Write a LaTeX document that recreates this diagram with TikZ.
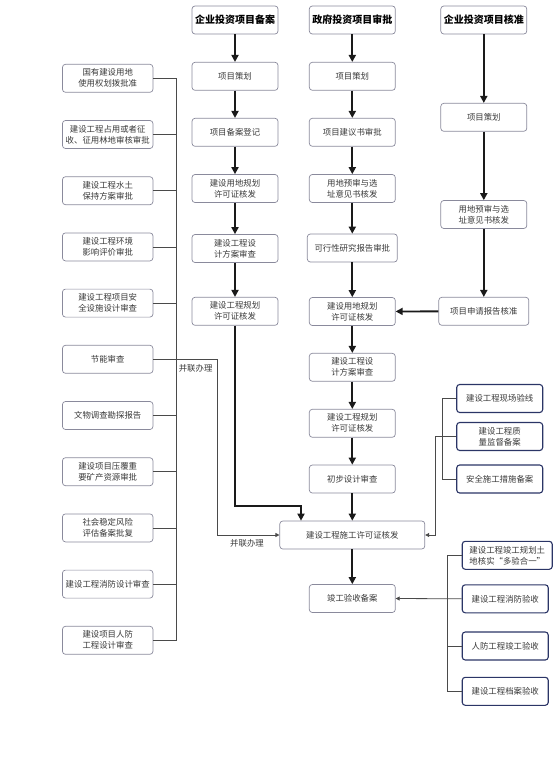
\documentclass[tikz,border=0pt]{standalone}
\usepackage{fontspec}
\newfontfamily\cjk{Noto Sans CJK SC}
\usetikzlibrary{arrows.meta}
\definecolor{boxline}{HTML}{8A8A9C}
\definecolor{navyline}{HTML}{2B3566}
\definecolor{flowline}{HTML}{1A1A1A}
\definecolor{linkgray}{HTML}{4A4A4A}
\definecolor{boxtext}{HTML}{3A3A3A}
\begin{document}
\begin{tikzpicture}[x=1pt,y=-1pt,
  box/.style={draw=boxline, line width=0.7pt, rounded corners=3pt, fill=white,
    align=center, minimum width=86pt, minimum height=28pt, inner sep=1pt,
    text=boxtext, font=\cjk\fontsize{8.4}{11}\selectfont},
  navybox/.style={box, draw=navyline, line width=1.1pt},
  headbox/.style={box, text=black, font=\cjk\bfseries\fontsize{10}{12}\selectfont},
  flow/.style={draw=flowline, line width=1.8pt, -{Triangle[length=7pt,width=7pt]}},
  link/.style={draw=linkgray, line width=0.8pt},
  linkarrow/.style={link, -{Triangle[length=4pt,width=4pt]}},
  tag/.style={text=boxtext, inner sep=0pt, font=\cjk\fontsize{8.4}{10}\selectfont}]

  \useasboundingbox (0,0) rectangle (554,760);

  %% headers
  \node[headbox] (baHead) at (235,20) {企业投资项目备案};
  \node[headbox] (spHead) at (352.3,20) {政府投资项目审批};
  \node[headbox] (hzHead) at (483.8,20) {企业投资项目核准};

  %% filing column
  \node[box] (ba1) at (235,76.3) {项目策划};
  \node[box] (ba2) at (235,132.3) {项目备案登记};
  \node[box] (ba3) at (235,188.5) {建设用地规划\\许可证核发};
  \node[box] (ba4) at (235,248.5) {建设工程设\\计方案审查};
  \node[box] (ba5) at (235,311.3) {建设工程规划\\许可证核发};

  %% approval column
  \node[box] (sp1) at (352.3,76.3) {项目策划};
  \node[box] (sp2) at (352.3,132.3) {项目建议书审批};
  \node[box] (sp3) at (352.3,188.5) {用地预审与选\\址意见书核发};
  \node[box, minimum width=90pt] (sp4) at (352.3,248) {可行性研究报告审批};
  \node[box] (sp5) at (352.3,311.5) {建设用地规划\\许可证核发};
  \node[box] (sp6) at (352.3,367.3) {建设工程设\\计方案审查};
  \node[box] (sp7) at (352.3,423.3) {建设工程规划\\许可证核发};
  \node[box] (sp8) at (352.3,479) {初步设计审查};
  \node[box, minimum width=145pt] (sp9) at (352.3,535) {建设工程施工许可证核发};
  \node[box] (sp10) at (352.3,598.5) {竣工验收备案};

  %% verification column
  \node[box] (hz1) at (483.8,117.3) {项目策划};
  \node[box] (hz2) at (483.8,214.5) {用地预审与选\\址意见书核发};
  \node[box, minimum width=90pt] (hz3) at (483.8,311.3) {项目申请报告核准};

  %% parallel items on the left
  \begin{scope}[every node/.style={box, minimum width=90.5pt}]
  \node (bl1) at (107.7,78.3) {国有建设用地\\使用权划拨批准};
  \node (bl2) at (107.7,134.5) {建设工程占用或者征\\收、征用林地审核审批};
  \node (bl3) at (107.7,190.7) {建设工程水土\\保持方案审批};
  \node (bl4) at (107.7,246.9) {建设工程环境\\影响评价审批};
  \node (bl5) at (107.7,303.1) {建设工程项目安\\全设施设计审查};
  \node (bl6) at (107.7,359.3) {节能审查};
  \node (bl7) at (107.7,415.5) {文物调查勘探报告};
  \node (bl8) at (107.7,471.7) {建设项目压覆重\\要矿产资源审批};
  \node (bl9) at (107.7,527.9) {社会稳定风险\\评估备案批复};
  \node (bl10) at (107.7,584.1) {建设工程消防设计审查};
  \node (bl11) at (107.7,640.3) {建设项目人防\\工程设计审查};
  \end{scope}

  %% construction stage filings
  \node[navybox] (sg1) at (499.7,398.5) {建设工程现场验线};
  \node[navybox] (sg2) at (499.7,436.5) {建设工程质\\量监督备案};
  \node[navybox] (sg3) at (499.7,479) {安全施工措施备案};

  %% acceptance items
  \node[navybox, anchor=west, minimum width=90pt] (ys1) at (461.7,555.3) {建设工程竣工规划土\\地核实“多验合一”};
  \node[navybox, anchor=west] (ys2) at (461.7,598.8) {建设工程消防验收};
  \node[navybox, anchor=west] (ys3) at (461.7,646) {人防工程竣工验收};
  \node[navybox, anchor=west] (ys4) at (461.7,691.3) {建设工程档案验收};

  \node[tag] (blTag1) at (195.6,368.3) {并联办理};
  \node[tag] (blTag2) at (247,543.3) {并联办理};

  %% main flow
  \draw[flow] (baHead) -- (ba1);
  \draw[flow] (ba1) -- (ba2);
  \draw[flow] (ba2) -- (ba3);
  \draw[flow] (ba3) -- (ba4);
  \draw[flow] (ba4) -- (ba5);
  \draw[flow] (spHead) -- (sp1);
  \draw[flow] (sp1) -- (sp2);
  \draw[flow] (sp2) -- (sp3);
  \draw[flow] (sp3) -- (sp4);
  \draw[flow] (sp4) -- (sp5);
  \draw[flow] (sp5) -- (sp6);
  \draw[flow] (sp6) -- (sp7);
  \draw[flow] (sp7) -- (sp8);
  \draw[flow] (sp8) -- (sp9);
  \draw[flow] (sp9) -- (sp10);
  \draw[flow] (hzHead) -- (hz1);
  \draw[flow] (hz1) -- (hz2);
  \draw[flow] (hz2) -- (hz3);
  \draw[flow] (hz3) -- (sp5);

  \coordinate (baJoin) at (301,505.7);
  \draw[flow] (ba5.south) |- (baJoin) -- (baJoin |- sp9.north); %% ba5 -> sp9

  %% left bus
  \coordinate (blBus) at (176.7,0);
  \draw[link] (bl1.east) -- (bl1.east -| blBus) -- (bl11.east -| blBus) -- (bl11.east);
  \draw[link] (bl2.east) -- (bl2.east -| blBus);
  \draw[link] (bl3.east) -- (bl3.east -| blBus);
  \draw[link] (bl4.east) -- (bl4.east -| blBus);
  \draw[link] (bl5.east) -- (bl5.east -| blBus);
  \draw[link] (bl7.east) -- (bl7.east -| blBus);
  \draw[link] (bl8.east) -- (bl8.east -| blBus);
  \draw[link] (bl9.east) -- (bl9.east -| blBus);
  \draw[link] (bl10.east) -- (bl10.east -| blBus);
  \coordinate (blTurn) at (217.7,0);
  \draw[linkarrow] (bl6.east) -- (bl6.east -| blTurn) |- (sp9.west); %% bl6 -> sp9

  %% right buses
  \coordinate (sgBus) at (442,0);
  \draw[link] (sg1.west) -- (sg1.west -| sgBus) -- (sg3.west -| sgBus) -- (sg3.west);
  \coordinate (sgTurn) at (435.7,0);
  \draw[linkarrow] (sg2.west) -- (sg2.west -| sgTurn) |- (sp9.east); %% sg2 -> sp9

  \coordinate (ysBus) at (447,0);
  \draw[link] (ys1.west) -- (ys1.west -| ysBus) -- (ys4.west -| ysBus) -- (ys4.west);
  \draw[link] (ys3.west) -- (ys3.west -| ysBus);
  \draw[linkarrow] (ys2.west) -- (sp10.east); %% ys2 -> sp10

\end{tikzpicture}
\end{document}
